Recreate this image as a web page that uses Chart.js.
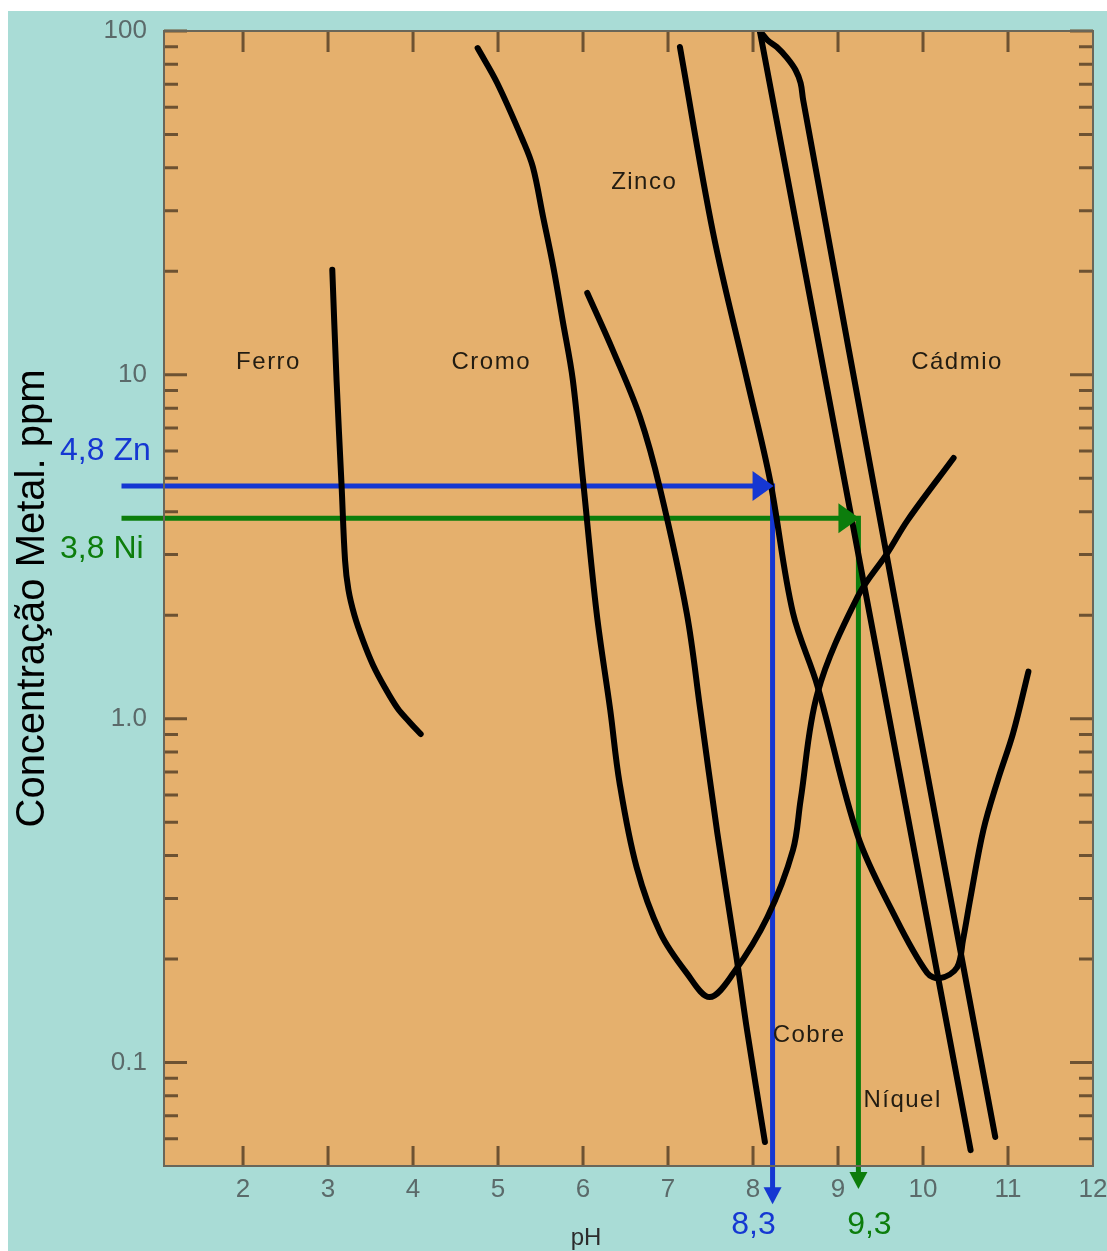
<!DOCTYPE html>
<html>
<head>
<meta charset="utf-8">
<script src="https://cdn.jsdelivr.net/npm/chart.js@4.4.1/dist/chart.umd.min.js"></script>
<style>
  html, body { margin: 0; padding: 0; background: #ffffff; }
  #wrap { position: absolute; left: 8px; top: 11px; width: 1099px; height: 1240px; background: #a9dcd6; }
</style>
</head>
<body>
<div id="wrap"><canvas id="phChart" width="1099" height="1240"></canvas></div>
<script>
// axis ticks
const xTicks = [2, 3, 4, 5, 6, 7, 8, 9, 10, 11, 12];
const yTicks = [0.1, 1, 10, 100];
const yTickLabels = ['0.1', '1.0', '10', '100'];
const yMinorSteps = [2, 3, 4, 5, 6, 7, 8, 9];

// solubility curves: pH vs concentration (ppm)
const ferroPH  = [3.05, 3.10, 3.16, 3.20, 3.24, 3.31, 3.41, 3.53, 3.67, 3.82, 3.96, 4.09];
const ferroPPM = [20.2, 9.66, 4.72, 2.89, 2.37, 2.00, 1.69, 1.43, 1.23, 1.07, 0.977, 0.902];

const cromoPH  = [4.76, 4.99, 5.29, 5.41, 5.53, 5.65, 5.76, 5.88, 6.00, 6.16, 6.32, 6.43, 6.63, 6.91, 7.22, 7.49, 7.77, 8.17, 8.47, 8.56, 8.76, 9.23, 9.58, 9.82, 10.36];
const cromoPPM = [89.2, 70.6, 48.2, 40.2, 28.8, 20.6, 14.4, 9.66, 4.94, 2.03, 1.06, 0.65, 0.37, 0.238, 0.182, 0.155, 0.182, 0.265, 0.415, 0.58, 1.19, 2.26, 3.03, 3.78, 5.73];

const cobrePH  = [6.05, 6.35, 6.67, 6.91, 7.22, 7.38, 7.58, 7.81, 7.93, 8.14];
const cobrePPM = [17.3, 11.8, 7.54, 4.62, 2.03, 1.06, 0.465, 0.199, 0.124, 0.0587];

const zincoPH  = [7.14, 7.53, 7.93, 8.20, 8.47, 8.76, 9.23, 9.65, 10.05, 10.20, 10.40, 10.47, 10.56, 10.71, 10.88, 11.06, 11.24];
const zincoPPM = [89.8, 25.9, 9.66, 4.94, 2.03, 1.24, 0.458, 0.272, 0.182, 0.176, 0.189, 0.227, 0.303, 0.474, 0.663, 0.908, 1.37];

const niquelPH  = [8.08, 10.56];
const niquelPPM = [100, 0.0556];

const cadmioPH  = [8.08, 8.17, 8.28, 8.40, 8.50, 8.56, 8.59, 9.67, 10.85];
const cadmioPPM = [100, 94.1, 89.8, 83.5, 77.0, 70.6, 63.0, 2.21, 0.0607];

// curve names and where they sit (pH, ppm)
const metalNames = ['Ferro', 'Cromo', 'Zinco', 'Cádmio', 'Cobre', 'Níquel'];
const nameAtPH  = [2.30, 4.92, 6.72, 10.40, 8.66, 9.76];
const nameAtPPM = [10.9, 10.9, 36.4, 10.9, 0.120, 0.0778];

// read-off lines: Zn and Ni
const readStartPH = 0.57;
const readPPM = [4.75, 3.83];
const readPH = [8.23, 9.24];
const readEndPPM = [0.0403, 0.0446];
const readPPMText = ['4,8 Zn', '3,8 Ni'];
const readPHText = ['8,3', '9,3'];
const readColors = ['#1537d2', '#0c7d0c'];

const pts = (xs, ys) => xs.map((v, i) => ({x: v, y: ys[i]}));

const curve = (label, xs, ys) => ({
    label: label,
    data: pts(xs, ys),
    borderColor: '#000000',
    borderWidth: 6,
    pointRadius: 0,
    fill: false,
    tension: 0.35,
    borderCapStyle: 'round',
    borderJoinStyle: 'round',
    clip: 0,
    order: 0
});

const readLine = (i) => ({
    label: readPPMText[i],
    data: [
        {x: readStartPH, y: readPPM[i]},
        {x: readPH[i], y: readPPM[i]},
        {x: readPH[i], y: readEndPPM[i]}
    ],
    borderColor: readColors[i],
    borderWidth: 5,
    pointRadius: 0,
    fill: false,
    tension: 0,
    borderCapStyle: 'butt',
    borderJoinStyle: 'miter',
    clip: false,
    order: 1
});

const font = 'Liberation Sans, Arial, sans-serif';

const frame = {
    id: 'frame',
    beforeDraw(chart) {
        const {ctx, chartArea: a} = chart;
        ctx.save();
        ctx.fillStyle = '#e5b06d';
        ctx.fillRect(a.left, a.top, a.right - a.left, a.bottom - a.top);
        ctx.restore();
    },
    beforeDatasetsDraw(chart) {
        const {ctx, chartArea: a, scales: {x, y}} = chart;
        ctx.save();
        ctx.strokeStyle = '#6d5232';
        ctx.lineWidth = 3;
        ctx.beginPath();
        xTicks.forEach(v => {
            if (v >= x.max) return;
            const px = x.getPixelForValue(v);
            ctx.moveTo(px, a.bottom); ctx.lineTo(px, a.bottom - 20);
            ctx.moveTo(px, a.top); ctx.lineTo(px, a.top + 21);
        });
        const yTick = (v, len) => {
            if (v <= y.min || v > y.max) return;
            const py = y.getPixelForValue(v);
            ctx.moveTo(a.left, py); ctx.lineTo(a.left + len, py);
            ctx.moveTo(a.right, py); ctx.lineTo(a.right - len, py);
        };
        yTicks.forEach(v => yTick(v, 23));
        [-2, -1, 0, 1].forEach(e => yMinorSteps.forEach(m => yTick(m * Math.pow(10, e), 14)));
        ctx.stroke();
        ctx.restore();
    },
    afterDatasetsDraw(chart) {
        const {ctx, chartArea: a, scales: {x, y}} = chart;
        ctx.save();
        // plot frame
        ctx.strokeStyle = '#6a6658';
        ctx.lineWidth = 2;
        ctx.strokeRect(a.left, a.top, a.right - a.left, a.bottom - a.top);

        // curve names
        ctx.fillStyle = '#221c12';
        ctx.font = '24px ' + font;
        ctx.letterSpacing = '1.5px';
        ctx.textAlign = 'center';
        ctx.textBaseline = 'middle';
        metalNames.forEach((n, i) => {
            ctx.fillText(n, x.getPixelForValue(nameAtPH[i]), y.getPixelForValue(nameAtPPM[i]));
        });
        ctx.letterSpacing = '0px';

        // arrow heads
        readPH.forEach((ph, i) => {
            ctx.fillStyle = readColors[i];
            const cx = x.getPixelForValue(ph);
            const cy = y.getPixelForValue(readPPM[i]);
            ctx.beginPath();
            ctx.moveTo(cx + 1, cy);
            ctx.lineTo(cx - 20, cy - 15);
            ctx.lineTo(cx - 20, cy + 15);
            ctx.closePath();
            ctx.fill();
            const by = y.getPixelForValue(readEndPPM[i]);
            ctx.beginPath();
            ctx.moveTo(cx, by + 6);
            ctx.lineTo(cx - 9, by - 11);
            ctx.lineTo(cx + 9, by - 11);
            ctx.closePath();
            ctx.fill();
        });

        // read-off values
        ctx.font = '32px ' + font;
        ctx.textAlign = 'left';
        readPPMText.forEach((t, i) => {
            ctx.fillStyle = readColors[i];
            const cy = y.getPixelForValue(readPPM[i]);
            ctx.fillText(t, 52, i === 0 ? cy - 35 : cy + 31);
        });
        ctx.textAlign = 'center';
        readPHText.forEach((t, i) => {
            ctx.fillStyle = readColors[i];
            const cx = x.getPixelForValue(readPH[i]);
            ctx.fillText(t, i === 0 ? cx - 19 : cx + 11, 1214);
        });

        // x axis title
        ctx.fillStyle = '#2c2c2c';
        ctx.font = '24px ' + font;
        ctx.textBaseline = 'alphabetic';
        ctx.fillText('pH', 578, 1234);
        ctx.restore();
    }
};

new Chart(document.getElementById('phChart'), {
    type: 'line',
    data: {
        datasets: [
            curve('Ferro', ferroPH, ferroPPM),
            curve('Cromo', cromoPH, cromoPPM),
            curve('Cobre', cobrePH, cobrePPM),
            curve('Zinco', zincoPH, zincoPPM),
            curve('Níquel', niquelPH, niquelPPM),
            curve('Cádmio', cadmioPH, cadmioPPM),
            readLine(0),
            readLine(1)
        ]
    },
    options: {
        responsive: false,
        animation: false,
        layout: {padding: {top: 20, right: 14, left: 0, bottom: 0}},
        plugins: {legend: {display: false}, tooltip: {enabled: false}},
        scales: {
            x: {
                type: 'linear',
                min: 1.07,
                max: 12,
                afterBuildTicks: s => { s.ticks = xTicks.map(v => ({value: v})); },
                afterFit: s => { s.height = 85; s.paddingLeft = 0; s.paddingRight = 0; },
                grid: {display: false, drawTicks: false},
                border: {display: false},
                ticks: {
                    padding: 8,
                    autoSkip: false,
                    maxRotation: 0,
                    color: '#5b6a6a',
                    font: {family: font, size: 26},
                    callback: v => String(v)
                }
            },
            y: {
                type: 'logarithmic',
                min: 0.05,
                max: 100,
                afterBuildTicks: s => { s.ticks = yTicks.map(v => ({value: v})); },
                afterFit: s => { s.width = 156; s.paddingTop = 0; s.paddingBottom = 0; },
                grid: {display: false, drawTicks: false},
                border: {display: false},
                ticks: {
                    padding: 17,
                    autoSkip: false,
                    color: '#5b6a6a',
                    font: {family: font, size: 26},
                    callback: (v, i) => yTickLabels[i]
                },
                title: {
                    display: true,
                    text: 'Concentração Metal. ppm',
                    color: '#000000',
                    font: {family: font, size: 40},
                    padding: {top: 1, bottom: 0}
                }
            }
        }
    },
    plugins: [frame]
});
</script>
</body>
</html>
